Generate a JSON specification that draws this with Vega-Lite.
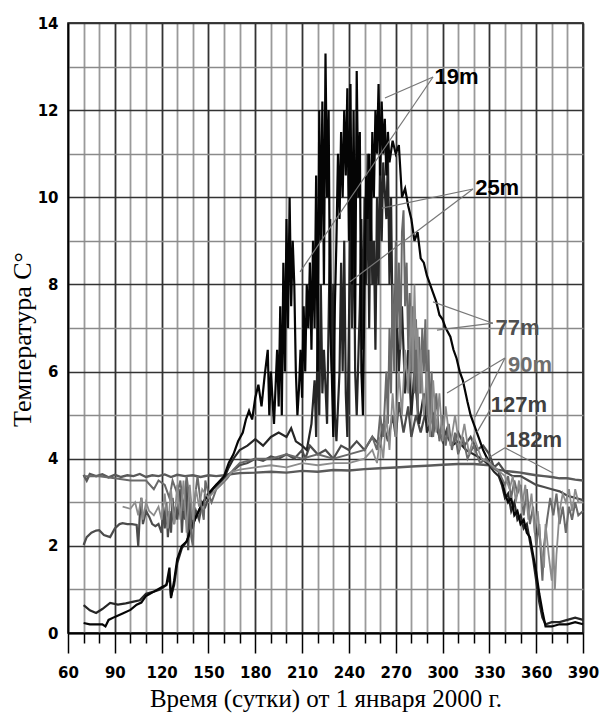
{
  "$schema": "https://vega.github.io/schema/vega-lite/v6.json",
  "width": 515,
  "height": 610,
  "autosize": "none",
  "padding": {"left": 68, "top": 23, "right": 23, "bottom": 82},
  "background": "white",
  "config": {
    "view": {"stroke": "black", "strokeWidth": 1.5},
    "axis": {
      "labelFont": "DejaVu Sans", "labelFontWeight": "bold", "labelFontSize": 15, "labelColor": "black",
      "titleFont": "Liberation Serif", "titleFontWeight": "normal", "titleFontSize": 26, "titleColor": "black",
      "domainColor": "black", "domainWidth": 2, "tickColor": "black", "tickWidth": 1.5
    }
  },
  "datasets": {
    "s19": [
      {"d":70,"t":0.23},{"d":74,"t":0.2},{"d":78,"t":0.2},{"d":82,"t":0.2},{"d":84,"t":0.15},{"d":86,"t":0.3},{"d":90,"t":0.37},{"d":95,"t":0.45},{"d":100,"t":0.53},{"d":104,"t":0.65},{"d":107,"t":0.7},{"d":110,"t":0.85},{"d":115,"t":0.95},{"d":120,"t":1.05},{"d":123,"t":1.1},{"d":125,"t":1.5},{"d":126,"t":0.8},{"d":128,"t":1.2},{"d":130,"t":1.7},{"d":133,"t":2.0},{"d":136,"t":2.1},{"d":140,"t":2.5},{"d":145,"t":2.9},{"d":150,"t":3.2},{"d":155,"t":3.4},{"d":160,"t":3.6},{"d":163,"t":3.9},{"d":166,"t":4.1},{"d":169,"t":4.4},{"d":172,"t":4.6},{"d":174,"t":4.9},{"d":176,"t":5.1},{"d":178,"t":4.9},{"d":180,"t":5.4},{"d":182,"t":5.7},{"d":184,"t":5.2},{"d":186,"t":5.9},{"d":188,"t":6.5},{"d":189,"t":5.0},{"d":190,"t":6.0},{"d":192,"t":4.8},{"d":194,"t":6.5},{"d":195,"t":5.2},{"d":196,"t":7.5},{"d":197,"t":5.0},{"d":198,"t":8.5},{"d":199,"t":6.0},{"d":200,"t":9.5},{"d":201,"t":7.0},{"d":202,"t":10.0},{"d":203,"t":7.5},{"d":204,"t":9.0},{"d":205,"t":8.0},{"d":206,"t":6.0},{"d":207,"t":5.0},{"d":208,"t":5.6},{"d":209,"t":6.5},{"d":210,"t":5.4},{"d":211,"t":7.5},{"d":212,"t":6.0},{"d":213,"t":8.0},{"d":214,"t":7.0},{"d":215,"t":8.5},{"d":216,"t":6.5},{"d":217,"t":9.0},{"d":218,"t":7.0},{"d":219,"t":10.5},{"d":220,"t":6.0},{"d":221,"t":12.0},{"d":222,"t":9.0},{"d":223,"t":12.2},{"d":224,"t":8.0},{"d":225,"t":13.3},{"d":226,"t":10.0},{"d":227,"t":12.0},{"d":228,"t":7.0},{"d":229,"t":6.0},{"d":230,"t":4.5},{"d":231,"t":7.5},{"d":232,"t":9.0},{"d":233,"t":11.0},{"d":234,"t":9.5},{"d":235,"t":11.5},{"d":236,"t":10.0},{"d":237,"t":12.0},{"d":238,"t":10.5},{"d":239,"t":12.5},{"d":240,"t":9.0},{"d":241,"t":12.6},{"d":242,"t":8.0},{"d":243,"t":12.0},{"d":244,"t":7.0},{"d":245,"t":12.9},{"d":246,"t":10.0},{"d":247,"t":11.5},{"d":248,"t":6.0},{"d":249,"t":5.0},{"d":250,"t":8.0},{"d":251,"t":10.5},{"d":252,"t":9.5},{"d":253,"t":11.0},{"d":254,"t":9.0},{"d":255,"t":11.5},{"d":256,"t":10.0},{"d":257,"t":12.0},{"d":258,"t":11.0},{"d":259,"t":12.6},{"d":260,"t":10.5},{"d":261,"t":12.2},{"d":262,"t":11.0},{"d":263,"t":11.8},{"d":264,"t":10.5},{"d":265,"t":11.5},{"d":266,"t":10.8},{"d":268,"t":11.3},{"d":270,"t":11.0},{"d":272,"t":11.2},{"d":274,"t":10.0},{"d":276,"t":10.2},{"d":278,"t":9.8},{"d":280,"t":9.5},{"d":282,"t":9.0},{"d":284,"t":9.2},{"d":286,"t":8.6},{"d":288,"t":8.5},{"d":290,"t":8.2},{"d":292,"t":8.0},{"d":294,"t":7.8},{"d":296,"t":7.6},{"d":298,"t":7.3},{"d":300,"t":7.2},{"d":302,"t":7.0},{"d":305,"t":6.8},{"d":307,"t":6.5},{"d":309,"t":6.3},{"d":311,"t":6.0},{"d":313,"t":5.8},{"d":316,"t":5.3},{"d":318,"t":5.0},{"d":320,"t":4.8},{"d":323,"t":4.5},{"d":326,"t":4.2},{"d":330,"t":3.9},{"d":333,"t":3.8},{"d":336,"t":3.7},{"d":338,"t":3.5},{"d":340,"t":3.2},{"d":342,"t":3.0},{"d":344,"t":3.1},{"d":346,"t":2.7},{"d":348,"t":2.8},{"d":350,"t":2.5},{"d":352,"t":2.6},{"d":354,"t":2.3},{"d":356,"t":2.2},{"d":358,"t":1.8},{"d":360,"t":1.4},{"d":362,"t":0.9},{"d":364,"t":0.5},{"d":366,"t":0.15},{"d":370,"t":0.15},{"d":375,"t":0.2},{"d":380,"t":0.2},{"d":385,"t":0.25},{"d":390,"t":0.2}
    ],
    "s25": [
      {"d":70,"t":0.64},{"d":74,"t":0.52},{"d":78,"t":0.46},{"d":82,"t":0.55},{"d":87,"t":0.69},{"d":92,"t":0.65},{"d":97,"t":0.68},{"d":102,"t":0.72},{"d":106,"t":0.75},{"d":110,"t":0.9},{"d":115,"t":0.95},{"d":119,"t":1.0},{"d":123,"t":1.1},{"d":125,"t":1.3},{"d":126,"t":0.85},{"d":128,"t":1.1},{"d":130,"t":1.6},{"d":133,"t":1.95},{"d":136,"t":2.1},{"d":140,"t":2.5},{"d":145,"t":2.9},{"d":150,"t":3.2},{"d":155,"t":3.4},{"d":160,"t":3.55},{"d":163,"t":3.8},{"d":166,"t":4.0},{"d":170,"t":4.2},{"d":175,"t":4.3},{"d":180,"t":4.45},{"d":185,"t":4.3},{"d":190,"t":4.5},{"d":195,"t":4.6},{"d":200,"t":4.5},{"d":203,"t":4.7},{"d":206,"t":4.4},{"d":210,"t":4.3},{"d":213,"t":4.2},{"d":216,"t":4.8},{"d":218,"t":5.8},{"d":219,"t":4.5},{"d":220,"t":7.0},{"d":221,"t":5.0},{"d":222,"t":8.0},{"d":223,"t":5.5},{"d":224,"t":6.5},{"d":226,"t":4.8},{"d":228,"t":9.5},{"d":229,"t":6.0},{"d":230,"t":8.0},{"d":231,"t":5.0},{"d":232,"t":4.4},{"d":234,"t":6.0},{"d":235,"t":8.5},{"d":236,"t":6.0},{"d":237,"t":9.0},{"d":238,"t":5.5},{"d":239,"t":4.5},{"d":240,"t":7.0},{"d":241,"t":10.0},{"d":242,"t":7.0},{"d":243,"t":10.5},{"d":244,"t":6.0},{"d":245,"t":5.0},{"d":247,"t":7.5},{"d":248,"t":9.5},{"d":249,"t":6.5},{"d":250,"t":10.0},{"d":251,"t":8.0},{"d":252,"t":11.0},{"d":253,"t":7.0},{"d":254,"t":10.5},{"d":255,"t":8.0},{"d":256,"t":9.0},{"d":257,"t":6.5},{"d":258,"t":10.0},{"d":259,"t":8.0},{"d":260,"t":11.0},{"d":261,"t":9.0},{"d":262,"t":10.8},{"d":264,"t":9.5},{"d":265,"t":11.0},{"d":266,"t":8.0},{"d":267,"t":10.0},{"d":268,"t":7.0},{"d":270,"t":8.0},{"d":272,"t":6.0},{"d":274,"t":7.5},{"d":276,"t":5.5},{"d":278,"t":6.5},{"d":280,"t":5.0},{"d":282,"t":6.0},{"d":285,"t":4.8},{"d":288,"t":5.5},{"d":290,"t":4.6},{"d":294,"t":5.0},{"d":298,"t":4.5},{"d":302,"t":4.6},{"d":306,"t":4.3},{"d":310,"t":4.4},{"d":315,"t":4.2},{"d":320,"t":4.1},{"d":325,"t":4.0},{"d":330,"t":3.85},{"d":333,"t":3.7},{"d":336,"t":3.6},{"d":338,"t":3.4},{"d":340,"t":3.1},{"d":342,"t":3.2},{"d":344,"t":2.8},{"d":346,"t":3.0},{"d":348,"t":2.6},{"d":350,"t":2.7},{"d":352,"t":2.4},{"d":354,"t":2.5},{"d":356,"t":2.1},{"d":358,"t":1.7},{"d":360,"t":1.2},{"d":362,"t":0.7},{"d":364,"t":0.35},{"d":366,"t":0.2},{"d":370,"t":0.25},{"d":375,"t":0.25},{"d":380,"t":0.3},{"d":385,"t":0.35},{"d":390,"t":0.3}
    ],
    "s77": [
      {"d":70,"t":3.6},{"d":80,"t":3.6},{"d":90,"t":3.55},{"d":100,"t":3.5},{"d":110,"t":3.5},{"d":115,"t":3.3},{"d":118,"t":3.5},{"d":122,"t":3.4},{"d":125,"t":3.1},{"d":127,"t":3.5},{"d":130,"t":3.2},{"d":132,"t":3.5},{"d":134,"t":2.8},{"d":136,"t":3.6},{"d":138,"t":3.0},{"d":139,"t":2.2},{"d":140,"t":2.0},{"d":141,"t":3.0},{"d":143,"t":3.6},{"d":145,"t":3.0},{"d":147,"t":2.6},{"d":148,"t":3.5},{"d":150,"t":3.2},{"d":152,"t":3.0},{"d":155,"t":3.3},{"d":158,"t":3.4},{"d":162,"t":3.55},{"d":166,"t":3.75},{"d":170,"t":3.9},{"d":180,"t":4.0},{"d":190,"t":4.0},{"d":200,"t":4.1},{"d":210,"t":4.0},{"d":220,"t":4.1},{"d":230,"t":4.0},{"d":240,"t":4.1},{"d":250,"t":4.2},{"d":255,"t":4.5},{"d":258,"t":4.2},{"d":260,"t":5.0},{"d":262,"t":4.5},{"d":264,"t":6.0},{"d":265,"t":4.8},{"d":266,"t":7.0},{"d":267,"t":5.5},{"d":268,"t":8.0},{"d":269,"t":6.0},{"d":270,"t":9.0},{"d":271,"t":7.0},{"d":272,"t":8.5},{"d":273,"t":6.5},{"d":274,"t":9.2},{"d":275,"t":9.7},{"d":276,"t":7.5},{"d":277,"t":8.5},{"d":278,"t":6.5},{"d":279,"t":7.8},{"d":280,"t":6.0},{"d":281,"t":7.5},{"d":282,"t":5.5},{"d":283,"t":7.2},{"d":284,"t":5.0},{"d":285,"t":6.8},{"d":286,"t":5.5},{"d":287,"t":7.0},{"d":288,"t":6.0},{"d":289,"t":7.2},{"d":290,"t":5.0},{"d":291,"t":6.5},{"d":292,"t":4.8},{"d":293,"t":6.0},{"d":294,"t":4.5},{"d":296,"t":5.5},{"d":298,"t":4.4},{"d":300,"t":5.0},{"d":302,"t":4.3},{"d":304,"t":4.8},{"d":306,"t":4.2},{"d":308,"t":4.6},{"d":310,"t":4.1},{"d":313,"t":4.5},{"d":316,"t":4.0},{"d":320,"t":4.3},{"d":324,"t":3.9},{"d":328,"t":4.0},{"d":332,"t":3.8},{"d":336,"t":3.7},{"d":340,"t":3.4},{"d":342,"t":3.6},{"d":344,"t":3.1},{"d":346,"t":3.5},{"d":348,"t":3.2},{"d":350,"t":3.4},{"d":352,"t":2.7},{"d":354,"t":3.3},{"d":356,"t":2.5},{"d":358,"t":2.9},{"d":360,"t":2.0},{"d":362,"t":2.5},{"d":363,"t":1.8},{"d":364,"t":1.2},{"d":365,"t":2.0},{"d":367,"t":2.6},{"d":369,"t":3.1},{"d":371,"t":2.7},{"d":373,"t":3.2},{"d":375,"t":2.5},{"d":377,"t":2.9},{"d":379,"t":2.3},{"d":381,"t":2.9},{"d":383,"t":2.6},{"d":385,"t":3.0},{"d":387,"t":2.7},{"d":390,"t":2.8}
    ],
    "s90": [
      {"d":95,"t":2.9},{"d":100,"t":2.85},{"d":103,"t":3.0},{"d":105,"t":2.7},{"d":107,"t":3.1},{"d":108,"t":2.6},{"d":110,"t":3.0},{"d":112,"t":2.8},{"d":115,"t":2.7},{"d":118,"t":2.9},{"d":120,"t":2.6},{"d":122,"t":3.2},{"d":124,"t":2.4},{"d":126,"t":3.3},{"d":128,"t":2.5},{"d":130,"t":3.4},{"d":132,"t":2.6},{"d":134,"t":3.5},{"d":136,"t":2.3},{"d":138,"t":3.4},{"d":140,"t":2.6},{"d":142,"t":3.3},{"d":144,"t":2.9},{"d":146,"t":3.3},{"d":150,"t":3.1},{"d":155,"t":3.3},{"d":160,"t":3.5},{"d":165,"t":3.7},{"d":170,"t":3.75},{"d":180,"t":3.8},{"d":190,"t":3.85},{"d":200,"t":3.8},{"d":210,"t":3.9},{"d":220,"t":3.85},{"d":230,"t":3.9},{"d":240,"t":3.9},{"d":250,"t":4.0},{"d":255,"t":4.2},{"d":258,"t":3.9},{"d":260,"t":4.5},{"d":262,"t":4.0},{"d":264,"t":5.0},{"d":266,"t":4.2},{"d":268,"t":5.5},{"d":270,"t":4.5},{"d":272,"t":6.0},{"d":274,"t":5.0},{"d":276,"t":6.5},{"d":278,"t":5.5},{"d":280,"t":7.5},{"d":281,"t":6.0},{"d":282,"t":8.0},{"d":283,"t":6.5},{"d":284,"t":7.0},{"d":285,"t":5.5},{"d":286,"t":6.5},{"d":288,"t":5.0},{"d":290,"t":6.0},{"d":292,"t":4.5},{"d":294,"t":5.8},{"d":296,"t":4.6},{"d":298,"t":5.5},{"d":300,"t":4.4},{"d":302,"t":5.2},{"d":305,"t":4.3},{"d":308,"t":5.0},{"d":311,"t":4.2},{"d":314,"t":4.8},{"d":317,"t":4.1},{"d":320,"t":4.5},{"d":325,"t":4.0},{"d":330,"t":3.9},{"d":335,"t":3.75},{"d":340,"t":3.6},{"d":343,"t":3.3},{"d":345,"t":3.6},{"d":347,"t":3.0},{"d":349,"t":3.5},{"d":351,"t":2.9},{"d":353,"t":3.4},{"d":355,"t":2.6},{"d":357,"t":3.2},{"d":359,"t":2.3},{"d":361,"t":2.8},{"d":363,"t":2.0},{"d":365,"t":1.5},{"d":366,"t":2.5},{"d":368,"t":1.8},{"d":370,"t":1.2},{"d":371,"t":2.0},{"d":372,"t":1.0},{"d":373,"t":1.8},{"d":375,"t":2.8},{"d":377,"t":3.2},{"d":379,"t":3.0},{"d":381,"t":3.3},{"d":383,"t":2.8},{"d":385,"t":3.3},{"d":387,"t":3.0},{"d":390,"t":3.0}
    ],
    "s127": [
      {"d":70,"t":2.02},{"d":72,"t":2.2},{"d":75,"t":2.3},{"d":78,"t":2.35},{"d":80,"t":2.36},{"d":83,"t":2.25},{"d":87,"t":2.2},{"d":90,"t":2.4},{"d":93,"t":2.5},{"d":95,"t":2.52},{"d":98,"t":2.5},{"d":101,"t":2.5},{"d":104,"t":2.48},{"d":105,"t":2.0},{"d":106,"t":2.7},{"d":107,"t":3.1},{"d":108,"t":2.5},{"d":110,"t":2.8},{"d":112,"t":2.67},{"d":114,"t":2.5},{"d":116,"t":2.45},{"d":118,"t":2.5},{"d":120,"t":2.3},{"d":121,"t":2.9},{"d":122,"t":2.4},{"d":123,"t":3.0},{"d":124,"t":2.2},{"d":125,"t":2.8},{"d":126,"t":2.3},{"d":127,"t":3.1},{"d":128,"t":2.5},{"d":129,"t":2.9},{"d":130,"t":2.6},{"d":132,"t":3.3},{"d":133,"t":2.3},{"d":134,"t":3.0},{"d":135,"t":2.6},{"d":136,"t":3.5},{"d":137,"t":1.9},{"d":138,"t":3.0},{"d":140,"t":2.4},{"d":142,"t":2.8},{"d":144,"t":2.6},{"d":146,"t":3.0},{"d":148,"t":2.9},{"d":150,"t":3.1},{"d":153,"t":3.3},{"d":156,"t":3.4},{"d":160,"t":3.55},{"d":165,"t":3.7},{"d":170,"t":3.85},{"d":175,"t":3.9},{"d":180,"t":4.0},{"d":185,"t":3.95},{"d":190,"t":4.05},{"d":195,"t":4.0},{"d":200,"t":4.1},{"d":205,"t":4.0},{"d":210,"t":4.2},{"d":212,"t":4.0},{"d":215,"t":4.3},{"d":220,"t":4.1},{"d":225,"t":4.2},{"d":230,"t":4.0},{"d":235,"t":4.3},{"d":240,"t":4.2},{"d":245,"t":4.4},{"d":250,"t":4.2},{"d":255,"t":4.5},{"d":260,"t":4.3},{"d":262,"t":4.8},{"d":265,"t":4.4},{"d":268,"t":5.0},{"d":270,"t":4.5},{"d":272,"t":5.3},{"d":275,"t":4.6},{"d":278,"t":5.2},{"d":280,"t":4.5},{"d":283,"t":5.0},{"d":286,"t":4.6},{"d":290,"t":5.2},{"d":293,"t":4.5},{"d":296,"t":4.8},{"d":300,"t":4.4},{"d":303,"t":4.7},{"d":306,"t":4.3},{"d":310,"t":4.6},{"d":314,"t":4.3},{"d":318,"t":4.5},{"d":322,"t":4.2},{"d":326,"t":4.3},{"d":330,"t":4.1},{"d":333,"t":3.8},{"d":336,"t":3.9},{"d":340,"t":3.7},{"d":345,"t":3.6},{"d":350,"t":3.6},{"d":355,"t":3.5},{"d":360,"t":3.4},{"d":365,"t":3.35},{"d":370,"t":3.3},{"d":375,"t":3.25},{"d":380,"t":3.15},{"d":385,"t":3.1},{"d":390,"t":3.05}
    ],
    "s182": [
      {"d":70,"t":3.63},{"d":72,"t":3.5},{"d":74,"t":3.65},{"d":78,"t":3.6},{"d":82,"t":3.64},{"d":86,"t":3.57},{"d":90,"t":3.63},{"d":94,"t":3.58},{"d":98,"t":3.62},{"d":102,"t":3.6},{"d":106,"t":3.65},{"d":110,"t":3.58},{"d":114,"t":3.62},{"d":118,"t":3.6},{"d":122,"t":3.64},{"d":126,"t":3.58},{"d":130,"t":3.63},{"d":135,"t":3.6},{"d":140,"t":3.62},{"d":145,"t":3.58},{"d":150,"t":3.62},{"d":155,"t":3.6},{"d":160,"t":3.62},{"d":165,"t":3.65},{"d":170,"t":3.67},{"d":180,"t":3.68},{"d":190,"t":3.7},{"d":200,"t":3.68},{"d":210,"t":3.72},{"d":220,"t":3.7},{"d":230,"t":3.74},{"d":240,"t":3.73},{"d":250,"t":3.76},{"d":260,"t":3.78},{"d":270,"t":3.8},{"d":280,"t":3.82},{"d":290,"t":3.84},{"d":300,"t":3.86},{"d":310,"t":3.88},{"d":320,"t":3.88},{"d":330,"t":3.85},{"d":335,"t":3.75},{"d":340,"t":3.72},{"d":345,"t":3.7},{"d":350,"t":3.68},{"d":355,"t":3.65},{"d":360,"t":3.62},{"d":365,"t":3.6},{"d":370,"t":3.58},{"d":375,"t":3.55},{"d":380,"t":3.55},{"d":385,"t":3.52},{"d":390,"t":3.5}
    ],
    "callouts": [
      {"d":293.9,"t":12.76,"d2":263.1,"t2":12.28},
      {"d":293.9,"t":12.76,"d2":208.7,"t2":8.29},
      {"d":319.5,"t":10.19,"d2":261.2,"t2":9.75},
      {"d":319.5,"t":10.19,"d2":240.7,"t2":8.06},
      {"d":332.3,"t":7.11,"d2":293.9,"t2":7.6},
      {"d":332.3,"t":7.11,"d2":296.4,"t2":6.95},
      {"d":340.0,"t":6.31,"d2":302.9,"t2":5.51},
      {"d":340.0,"t":6.31,"d2":320.8,"t2":4.96},
      {"d":330.4,"t":5.12,"d2":322.1,"t2":4.61},
      {"d":340.0,"t":4.25,"d2":330.4,"t2":4.04},
      {"d":340.0,"t":4.25,"d2":370.8,"t2":3.67}
    ],
    "labels": [
      {"d":309,"t":12.76,"name":"19m","c":"#000000"},
      {"d":335,"t":10.21,"name":"25m","c":"#000000"},
      {"d":348,"t":7.0,"name":"77m","c":"#505050"},
      {"d":356,"t":6.15,"name":"90m","c":"#6e6e6e"},
      {"d":349,"t":5.23,"name":"127m","c":"#404040"},
      {"d":358.6,"t":4.43,"name":"182m","c":"#404040"}
    ]
  },
  "layer": [
    {
      "data": {"name": "s182"},
      "mark": {"type": "line", "color": "#5a5a5a", "strokeWidth": 2.4},
      "encoding": {
        "x": {"field": "d", "type": "quantitative",
          "scale": {"domain": [60, 390], "nice": false, "zero": false},
          "axis": {
            "title": "Время (сутки) от 1 января 2000 г.",
            "values": [60,70,80,90,100,110,120,130,140,150,160,170,180,190,200,210,220,230,240,250,260,270,280,290,300,310,320,330,340,350,360,370,380,390],
            "tickCount": 100,
            "format": "d",
            "labelExpr": "datum.value % 30 === 0 ? datum.label : ''",
            "labelOverlap": false,
            "grid": true,
            "gridColor": {"condition": {"test": "datum.value % 30 === 0", "value": "#333333"}, "value": "#9a9a9a"},
            "gridWidth": 1.8,
            "tickSize": {"condition": {"test": "datum.value % 30 === 0", "value": 20}, "value": 10},
            "labelPadding": 12,
            "labelFlush": false,
            "titleFontSize": 25,
            "titlePadding": 6
          }
        },
        "y": {"field": "t", "type": "quantitative",
          "scale": {"domain": [0, 14], "nice": false},
          "axis": {
            "title": "Температура С°",
            "values": [0,1,2,3,4,5,6,7,8,9,10,11,12,13,14],
            "tickCount": 100,
            "format": "d",
            "labelExpr": "datum.value % 2 === 0 ? datum.label : ''",
            "labelOverlap": false,
            "grid": true,
            "gridColor": {"condition": {"test": "datum.value % 2 === 0", "value": "#333333"}, "value": "#8a8a8a"},
            "gridWidth": 1.6,
            "ticks": false,
            "labelPadding": 10,
            "domainWidth": 1.5,
            "titleX": -38,
            "titleY": 316,
            "titleBaseline": "alphabetic"
          }
        }
      }
    },
    {
      "data": {"name": "s127"},
      "mark": {"type": "line", "color": "#4c4c4c", "strokeWidth": 2.2},
      "encoding": {"x": {"field": "d", "type": "quantitative"}, "y": {"field": "t", "type": "quantitative"}}
    },
    {
      "data": {"name": "s25"},
      "mark": {"type": "line", "color": "#262626", "strokeWidth": 2.2},
      "encoding": {"x": {"field": "d", "type": "quantitative"}, "y": {"field": "t", "type": "quantitative"}}
    },
    {
      "data": {"name": "s19"},
      "mark": {"type": "line", "color": "#050505", "strokeWidth": 2.2},
      "encoding": {"x": {"field": "d", "type": "quantitative"}, "y": {"field": "t", "type": "quantitative"}}
    },
    {
      "data": {"name": "s77"},
      "mark": {"type": "line", "color": "#6a6a6a", "strokeWidth": 2},
      "encoding": {"x": {"field": "d", "type": "quantitative"}, "y": {"field": "t", "type": "quantitative"}}
    },
    {
      "data": {"name": "s90"},
      "mark": {"type": "line", "color": "#8c8c8c", "strokeWidth": 1.8},
      "encoding": {"x": {"field": "d", "type": "quantitative"}, "y": {"field": "t", "type": "quantitative"}}
    },
    {
      "data": {"name": "callouts"},
      "mark": {"type": "rule", "color": "#777777", "strokeWidth": 1.2},
      "encoding": {
        "x": {"field": "d", "type": "quantitative"}, "y": {"field": "t", "type": "quantitative"},
        "x2": {"field": "d2"}, "y2": {"field": "t2"}
      }
    },
    {
      "data": {"name": "labels"},
      "mark": {"type": "text", "font": "Liberation Sans", "fontWeight": "bold", "fontSize": 22, "align": "center", "baseline": "middle"},
      "encoding": {
        "x": {"field": "d", "type": "quantitative"}, "y": {"field": "t", "type": "quantitative"},
        "text": {"field": "name"},
        "color": {"field": "c", "type": "nominal", "scale": null}
      }
    }
  ]
}
